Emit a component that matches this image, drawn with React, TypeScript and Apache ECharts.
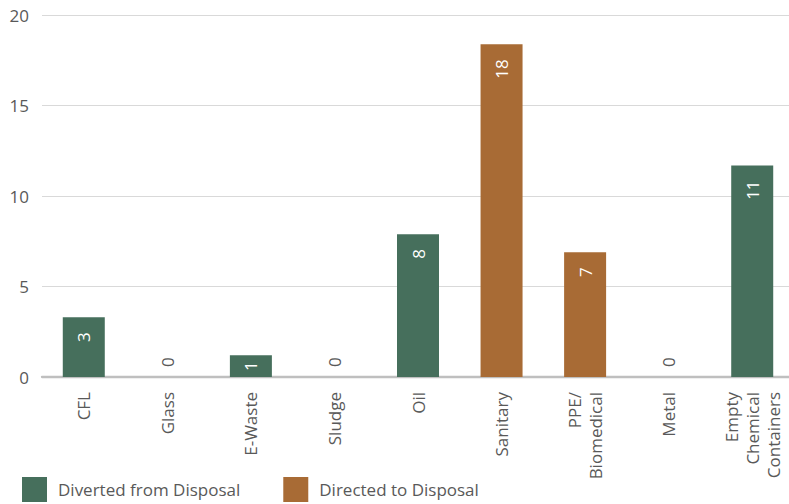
import React, { useEffect, useRef } from "react";
import * as echarts from "echarts";

const categories = [
  "CFL",
  "Glass",
  "E-Waste",
  "Sludge",
  "Oil",
  "Sanitary",
  "PPE/\nBiomedical",
  "Metal",
  "Empty\nChemical\nContainers",
];
const divertedValues: (number | null)[] = [3.3, 0, 1.2, 0, 7.9, null, null, 0, 11.7];
const directedValues: (number | null)[] = [null, null, null, null, null, 18.4, 6.9, null, null];
const barLabels = ["3", "0", "1", "0", "8", "18", "7", "0", "11"];
const yTicks = { min: 0, max: 20, interval: 5 };
const seriesNames = ["Diverted from Disposal", "Directed to Disposal"];

const GREEN = "#466F5C";
const BROWN = "#A86B35";
const TEXT = "#595959";
const FONT = "'Open Sans', 'Noto Sans', sans-serif";

function buildData(values: (number | null)[]) {
  return values.map((v) => {
    if (v === null) return "-";
    if (v === 0) {
      return {
        value: v,
        label: {
          position: "insideBottom",
          distance: 10,
          align: "left",
          verticalAlign: "middle",
          color: TEXT,
        },
      };
    }
    if (v < 2) {
      // short bar: keep the label inside the bar
      return { value: v, label: { distance: 6 } };
    }
    return { value: v };
  });
}

const labelCfg = {
  show: true,
  position: "insideTop",
  rotate: 90,
  align: "right",
  verticalAlign: "middle",
  distance: 15,
  color: "#ffffff",
  fontSize: 17,
  fontFamily: FONT,
  formatter: (p: any) => barLabels[p.dataIndex],
};

export default function App() {
  const ref = useRef<HTMLDivElement>(null);
  useEffect(() => {
    if (!ref.current) return;
    const chart = echarts.init(ref.current, undefined, { renderer: "svg" });
    chart.setOption({
      animation: false,
      textStyle: { fontFamily: FONT },
      grid: { left: 42, right: 6, top: 15.3, bottom: 127, containLabel: false },
      legend: {
        left: 22,
        top: 477,
        padding: 0,
        itemWidth: 25,
        itemHeight: 25,
        itemGap: 43,
        icon: "rect",
        textStyle: { fontSize: 17, color: TEXT, fontFamily: FONT, padding: [0, 0, 0, 6] },
        data: seriesNames,
      },
      xAxis: {
        type: "category",
        data: categories,
        offset: 4,
        axisLine: { lineStyle: { color: "#BFBFBF", width: 2.3 } },
        axisTick: { show: false },
        axisLabel: {
          rotate: 90,
          interval: 0,
          fontSize: 17,
          lineHeight: 21,
          color: TEXT,
          fontFamily: FONT,
          margin: 11,
        },
      },
      yAxis: {
        type: "value",
        min: yTicks.min,
        max: yTicks.max,
        interval: yTicks.interval,
        axisLine: { show: false },
        axisTick: { show: false },
        axisLabel: { fontSize: 17, color: TEXT, fontFamily: FONT, margin: 13 },
        splitLine: { lineStyle: { color: "#D9D9D9", width: 1 } },
      },
      series: [
        {
          name: seriesNames[0],
          type: "bar",
          barWidth: 42,
          barGap: "-100%",
          itemStyle: { color: GREEN },
          label: labelCfg,
          data: buildData(divertedValues),
        },
        {
          name: seriesNames[1],
          type: "bar",
          barWidth: 42,
          barGap: "-100%",
          itemStyle: { color: BROWN },
          label: labelCfg,
          data: buildData(directedValues),
        },
      ],
    });
    return () => chart.dispose();
  }, []);
  return (
    <div
      style={{
        position: "fixed",
        left: 0,
        top: 0,
        width: 789,
        height: 504,
        overflow: "hidden",
        background: "#fff",
      }}
    >
      <div ref={ref} style={{ width: 800, height: 504 }} />
    </div>
  );
}
